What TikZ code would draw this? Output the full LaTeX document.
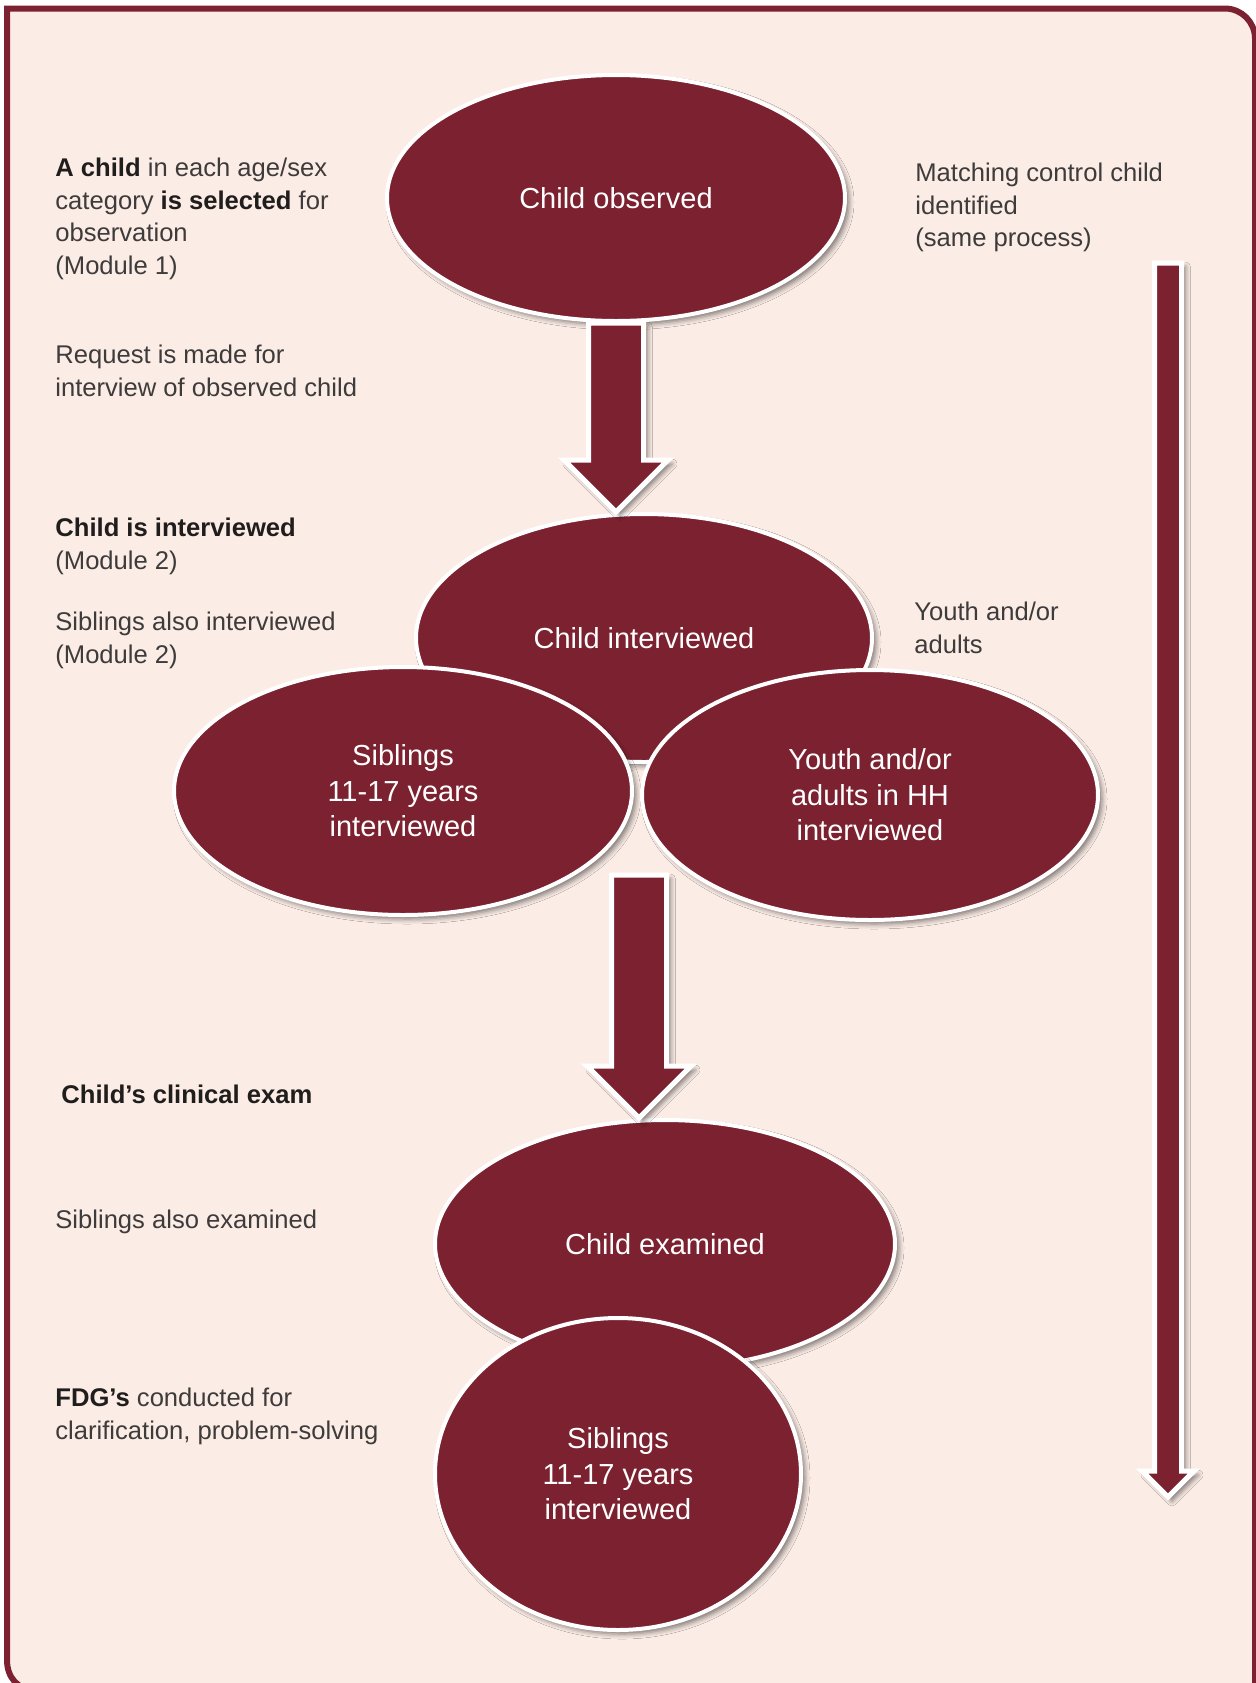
\documentclass[tikz,border=0pt]{standalone}
\usepackage{fontspec}
\setmainfont{Liberation Sans}
\usetikzlibrary{positioning, shapes.geometric, calc, shadows.blur}
\definecolor{reportMaroon}{RGB}{123,33,48}
\definecolor{reportPink}{RGB}{251,236,230}
\definecolor{reportText}{RGB}{62,59,59}
\definecolor{reportBold}{RGB}{32,29,29}

\newcommand{\boldnote}[1]{\textbf{\color{reportBold}#1}}
% block arrow: top, tip, half shaft, half head
\newcommand{\bigarrow}[4]{%
  \draw[bigarrow] ($(#1)+(-#3,0)$) -- ($(#2)+(-#3,-#4)$) -- ($(#2)+(-#4,-#4)$) -- (#2)
    -- ($(#2)+(#4,-#4)$) -- ($(#2)+(#3,-#4)$) -- ($(#1)+(#3,0)$) -- cycle;}

\tikzset{
  softshadow/.style={blur shadow={shadow xshift=2pt, shadow yshift=-2pt, shadow blur radius=2.5pt, shadow opacity=50}},
  stage/.style={ellipse, fill=reportMaroon, draw=white, line width=2pt, inner sep=0pt,
    text=white, align=center, font=\fontsize{14.5}{17.75}\selectfont, softshadow},
  note/.style={anchor=north west, inner sep=0pt, align=left, text=reportText,
    font=\fontsize{12.8}{16.2}\selectfont},
  bigarrow/.style={fill=reportMaroon, draw=white, line width=2.5pt, softshadow},
}

\begin{document}
\begin{tikzpicture}[x=0.5pt, y=-0.5pt]
  \useasboundingbox (0,0) rectangle (1255,1683);
  \fill[white] (0,0) rectangle (1255,1683);
  % panel
  \filldraw[fill=reportPink, draw=reportMaroon, line width=3pt]
    (7,8.5) -- (1225,8.5) .. controls (1241.5,8.5) and (1255,22) .. (1255,38.5)
    -- (1255,1690) -- (35,1690) .. controls (18.5,1690) and (7,1678) .. (7,1660) -- cycle;

  % stages
  \node[stage, minimum width=229pt, minimum height=123pt] (obs) at (616,198) {Child observed};
  \node[stage, minimum width=228pt, minimum height=124pt] (intv) at (644,638) {Child interviewed};
  \node[stage, minimum width=229pt, minimum height=124pt] (sibl) at (403,791) {Siblings\\11-17 years\\interviewed};
  \node[stage, minimum width=228pt, minimum height=125pt] (youth) at (870,795) {Youth and/or\\adults in HH\\interviewed};
  \node[stage, minimum width=230pt, minimum height=124pt] (exam) at (665,1244) {Child examined};
  \node[stage, minimum width=183pt, minimum height=156pt] (sibtwo) at (618,1474) {Siblings\\11-17 years\\interviewed};

  % arrows
  \coordinate (split) at (639,875);
  \coordinate (ctop) at (1168,263);
  \coordinate (ctip) at (1168,1497);
  \bigarrow{obs.south}{obs.south |- intv.north}{27.5}{52}
  \bigarrow{split}{split |- exam.north}{27.5}{52}
  \bigarrow{ctop}{ctip}{13.5}{26}

  % left notes
  \node[note] (n1) at (55,158) {\boldnote{A child} in each age/sex\\category \boldnote{is selected} for\\observation\\(Module 1)};
  \node[note] (n2) at (55,345) {Request is made for\\interview of observed child};
  \node[note] (n3) at (55,518) {\boldnote{Child is interviewed}\\(Module 2)};
  \node[note] (n4) at (55,612) {Siblings also interviewed\\(Module 2)};
  \node[note] (n5) at (61,1085) {\boldnote{Child’s clinical exam}};
  \node[note] (n6) at (55,1210) {Siblings also examined};
  \node[note] (n7) at (55,1388) {\boldnote{FDG’s} conducted for\\clarification, problem-solving};
  % right notes
  \node[note] (n8) at (915,163) {Matching control child\\identified\\(same process)};
  \node[note] (n9) at (914,602) {Youth and/or\\adults};
\end{tikzpicture}
\end{document}
